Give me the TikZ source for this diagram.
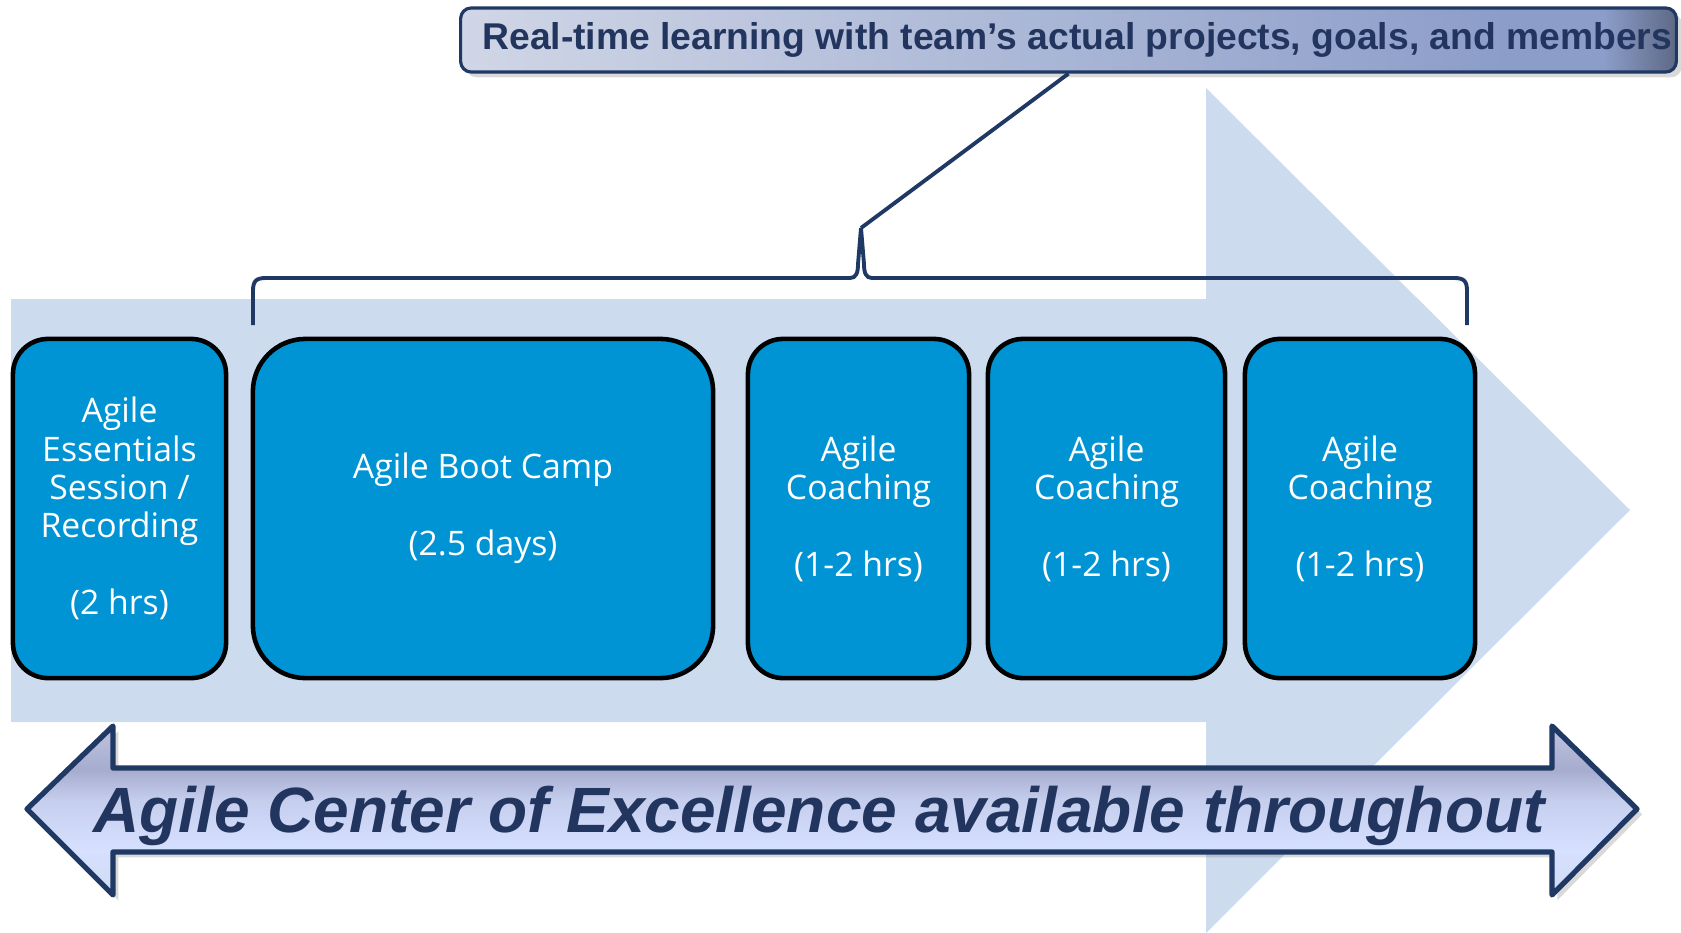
\documentclass[tikz,border=0pt]{standalone}
\usepackage{fontspec}
\setmainfont{Liberation Sans}
\newfontfamily\phasefont{Open Sans}
\usepackage{xcolor}
\usetikzlibrary{
    positioning,
    shadows,
    calc
}

\definecolor{navy}{HTML}{1F3864}
\definecolor{navytext}{HTML}{22355F}
\definecolor{flowblue}{HTML}{CCDCEE}
\definecolor{phaseblue}{HTML}{0094D4}
\definecolor{noteL}{HTML}{D0D6E6}
\definecolor{noteM}{HTML}{8C9DC9}
\definecolor{noteR}{HTML}{5E6985}
\definecolor{coeA}{HTML}{CFDCF2}
\definecolor{coeB}{HTML}{D6E0FF}
\definecolor{coeC}{HTML}{C6CEEE}
\definecolor{coeD}{HTML}{A6ACCE}
\definecolor{coeE}{HTML}{BFC4DF}

% left-to-right fade of the callout, darker at its right end
\pgfdeclarehorizontalshading{notefade}{100bp}{
  color(0bp)=(noteL); color(25bp)=(noteL); color(68bp)=(noteM);
  color(72bp)=(noteM); color(75bp)=(noteR); color(100bp)=(noteR)}
% bottom-to-top fade of the double arrow
\pgfdeclareverticalshading{coefade}{100bp}{
  color(0bp)=(coeA); color(25bp)=(coeA); color(38bp)=(coeB);
  color(53bp)=(coeC); color(62bp)=(coeD); color(75bp)=(coeE); color(100bp)=(coeE)}

\begin{document}
\begin{tikzpicture}[x=0.01cm, y=-0.01cm,
  phase/.style={draw=black, line width=1.3pt, fill=phaseblue, text=white,
                rounded corners=10pt, minimum height=3.39cm, align=center,
                inner sep=0pt, font=\phasefont\fontsize{9.6}{10.9}\selectfont},
  note/.style={draw=navy, line width=0.9pt, rounded corners=3pt, shade, shading=notefade,
               minimum width=12.15cm, minimum height=0.64cm, inner sep=0pt, text=navytext,
               font=\bfseries\fontsize{10.6}{12}\selectfont,
               drop shadow={shadow xshift=1.5pt, shadow yshift=-1.5pt, opacity=0.3}},
  bracket/.style={draw=navy, line width=1.1pt},
  coearrow/.style={draw=navy, line width=1.5pt, line join=round, shade, shading=coefade,
                   drop shadow={shadow xshift=1.5pt, shadow yshift=-1.5pt, opacity=0.3}}]

  \useasboundingbox (0,0) rectangle (1681,933);

  % Big pale arrow behind everything
  \fill[flowblue] (11,299) -- (1206,299) -- (1206,88) -- (1630,510)
    -- (1206,933) -- (1206,722) -- (11,722) -- cycle;

  % Phase boxes left to right
  \node[phase, minimum width=2.13cm] (ess) at (119.5,508.5)
    {Agile\\Essentials\\Session /\\Recording\\[10.9pt](2 hrs)};
  \node[phase, minimum width=4.60cm, rounded corners=15pt] (boot) at (483,508.5)
    {Agile Boot Camp\\[10.9pt](2.5 days)};
  \node[phase, minimum width=2.21cm] (coach1) at (858.5,508.5)
    {Agile\\Coaching\\[10.9pt](1-2 hrs)};
  \node[phase, minimum width=2.37cm] (coach2) at (1106.5,508.5)
    {Agile\\Coaching\\[10.9pt](1-2 hrs)};
  \node[phase, minimum width=2.30cm] (coach3) at (1360,508.5)
    {Agile\\Coaching\\[10.9pt](1-2 hrs)};

  % Callout on top
  \node[note] (note) at (1068.5,40)
    {\hspace*{5pt}Real-time learning with team’s actual projects, goals, and members};

  % Brace over boot camp and coaching, tied to the callout
  \coordinate (cusp) at (861,228);
  \draw[bracket] (253,325) -- (253,291) .. controls (253,281) and (256,278) .. (266,278)
    -- (850,278) .. controls (856,278) and (858,273) .. (858,264) -- (cusp)
    -- (864,264) .. controls (864,273) and (866,278) .. (872,278)
    -- (1454,278) .. controls (1464,278) and (1467,281) .. (1467,291) -- (1467,325);
  \draw[bracket] (cusp) -- (note.south);

  % Double arrow along the bottom
  \draw[coearrow] (27,809) -- (113,726) -- (113,768) -- (1552,768) -- (1552,726)
    -- (1637,809) -- (1552,895) -- (1552,852) -- (113,852) -- (113,895) -- cycle;
  \node[text=navytext, font=\bfseries\itshape\fontsize{18.2}{20}\selectfont] (coe)
    at (819,816) {Agile Center of Excellence available throughout};
\end{tikzpicture}
\end{document}
